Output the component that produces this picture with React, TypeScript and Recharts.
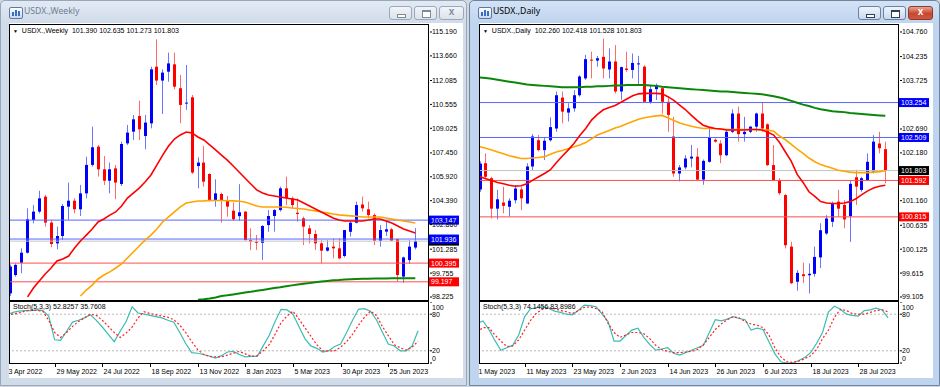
import React from 'react'
import { ComposedChart, Line, Bar, XAxis, YAxis, ReferenceLine } from 'recharts'

const FONT = '"Liberation Sans", Arial, sans-serif'
const TITLE_FONT = '"Noto Sans", "Open Sans", sans-serif'

// ---------- weekly: 3 Apr 2022 .. 30 Jul 2023 ----------
const weeklyOpen = [
  98.46, 99.63, 100.42, 101.06, 103.16, 103.69, 104.65, 102.99, 101.66, 102.13,
  104.01, 104.39, 103.84, 104.86, 106.68, 107.85, 106.4, 105.67, 106.46, 105.46,
  108.06, 108.81, 109.81, 108.53, 109.34, 112.97, 112.08, 112.65, 113.12, 111.59,
  110.63, 111.01, 106.61, 106.83, 106.1, 104.39, 104.82, 104.39, 103.75, 103.4,
  103.69, 101.87, 101.77, 101.7, 102.83, 103.41, 103.79, 105.18, 104.54, 103.62,
  103.26, 102.62, 102.26, 101.66, 101.19, 101.45, 101.34, 100.85, 102.4, 102.98,
  104.15, 103.84, 103.47, 101.83, 102.41, 102.56, 101.92, 99.53, 100.59, 101.39,
]
const weeklyHigh = [
  100.3, 100.38, 101.34, 103.9, 104.12, 105.03, 104.76, 103.16, 102.73, 104.18,
  105.55, 104.54, 105.4, 107.21, 109.13, 107.96, 107.25, 106.83, 106.68, 108.17,
  109.24, 109.88, 110.8, 109.88, 112.97, 114.72, 112.8, 113.87, 113.87, 112.44,
  113.08, 111.16, 107.17, 107.89, 106.15, 105.76, 104.91, 104.69, 104.27, 105.45,
  103.72, 102.62, 102.2, 102.83, 103.79, 103.85, 105.29, 105.93, 104.65, 104.54,
  103.37, 102.83, 102.51, 101.87, 101.87, 101.98, 101.98, 102.51, 103.05, 104.33,
  104.65, 104.33, 103.58, 102.83, 103.05, 102.65, 101.95, 100.81, 101.87, 102.635,
]
const weeklyLow = [
  98.3, 99.53, 99.74, 101.0, 102.94, 103.58, 102.73, 101.41, 101.28, 101.88,
  103.16, 103.58, 103.41, 104.54, 106.57, 105.93, 105.4, 104.86, 104.48, 105.33,
  107.96, 108.28, 108.28, 107.68, 109.02, 111.8, 109.94, 112.01, 111.52, 109.34,
  110.2, 106.1, 105.18, 105.29, 104.33, 104.01, 102.99, 103.37, 103.11, 103.1,
  101.83, 101.23, 101.23, 100.59, 102.4, 102.41, 103.69, 104.11, 103.9, 103.05,
  101.55, 101.66, 101.23, 100.38, 101.13, 100.7, 100.64, 100.76, 102.09, 102.94,
  103.69, 103.26, 101.55, 101.45, 102.13, 101.8, 99.21, 99.14, 100.34, 101.273,
]
const weeklyClose = [
  100.17, 100.28, 101.06, 103.2, 103.69, 104.54, 102.99, 101.62, 102.13, 104.05,
  104.39, 103.84, 104.86, 106.68, 107.81, 106.4, 105.67, 106.4, 105.55, 108.02,
  108.75, 109.6, 108.96, 109.39, 112.8, 112.08, 112.59, 113.18, 111.69, 110.52,
  110.67, 106.19, 106.83, 105.61, 104.39, 104.86, 104.39, 104.01, 103.2, 103.65,
  101.87, 101.77, 101.7, 102.77, 103.41, 103.79, 105.18, 104.54, 104.11, 103.54,
  102.73, 102.26, 101.66, 101.19, 101.4, 101.34, 100.7, 102.51, 102.98, 104.11,
  103.9, 103.47, 101.83, 102.51, 102.56, 101.83, 99.63, 100.76, 101.45, 101.803,
]
const weeklyMaFast = [
  null, null, null, 98.23, 98.8, 99.25, 99.7, 100.08, 100.53, 100.66,
  100.85, 101.36, 101.81, 102.19, 102.58, 103.03, 103.22, 103.47, 103.67, 104.05,
  104.56, 104.88, 105.2, 105.59, 106.04, 106.67, 107.31, 107.89, 108.34, 108.6,
  108.79, 108.72, 108.47, 108.28, 107.96, 107.64, 107.31, 106.99, 106.61, 106.23,
  105.84, 105.46, 105.08, 104.88, 104.75, 104.69, 104.63, 104.56, 104.5, 104.44,
  104.24, 104.05, 103.86, 103.67, 103.47, 103.28, 103.15, 103.09, 103.09, 103.09,
  103.09, 103.15, 103.22, 103.22, 103.09, 102.96, 102.77, 102.58, 102.45, 102.32,
]
const weeklyMaMid = [
  null, null, null, null, null, null, null, null, null, null,
  null, null, 98.29, 98.67, 98.99, 99.38, 99.63, 99.83, 100.08, 100.34,
  100.72, 101.11, 101.49, 101.87, 102.19, 102.58, 103.03, 103.35, 103.67, 103.99,
  104.24, 104.31, 104.37, 104.38, 104.4, 104.4, 104.4, 104.39, 104.38, 104.35,
  104.31, 104.18, 104.05, 103.99, 103.99, 103.99, 103.99, 103.97, 103.92, 103.89,
  103.86, 103.8, 103.74, 103.67, 103.61, 103.54, 103.48, 103.45, 103.42, 103.39,
  103.35, 103.35, 103.35, 103.35, 103.28, 103.22, 103.15, 103.09, 103.03, 102.96,
]
const weeklyMaSlow = [
  null, null, null, null, null, null, null, null, null, null,
  null, null, null, null, null, null, null, null, null, null,
  null, null, null, null, null, null, null, null, null, null,
  null, null, 98.05, 98.08, 98.13, 98.19, 98.29, 98.33, 98.39, 98.45,
  98.51, 98.56, 98.62, 98.68, 98.74, 98.8, 98.85, 98.91, 98.97, 99.03,
  99.08, 99.12, 99.17, 99.21, 99.25, 99.29, 99.31, 99.34, 99.36, 99.38,
  99.39, 99.4, 99.41, 99.41, 99.41, 99.42, 99.42, 99.42, 99.43, 99.43,
]
const weeklyStochMain = [
  79, 83, 85, 86, 86, 87, 86, 77, 38, 37,
  52, 67, 70, 74, 79, 70, 59, 47, 35, 52,
  68, 92, 82, 80, 78, 76, 74, 70, 67, 50,
  32, 17, 16, 14, 11, 8, 12, 18, 19, 14,
  10, 11, 11, 28, 45, 68, 88, 87, 80, 60,
  40, 28, 24, 18, 20, 27, 31, 50, 70, 88,
  89, 85, 71, 51, 31, 28, 20, 20, 28, 52.83,
]
const weeklyStochSignal = [
  79, 80, 82, 85, 87, 86, 85, 70, 50, 42,
  50, 60, 68, 74, 80, 78, 70, 60, 50, 42,
  49, 59, 74, 84, 81, 79, 77, 75, 71, 62,
  50, 35, 22, 14, 11, 10, 10, 13, 16, 19,
  15, 11, 12, 20, 30, 47, 66, 77, 85, 72,
  58, 44, 30, 20, 20, 20, 26, 35, 47, 62,
  75, 85, 78, 60, 45, 30, 25, 21, 26, 35.76,
]
const weeklyPriceTicks = [98.225, 99.755, 101.285, 102.86, 104.39, 105.92, 107.45, 109.025, 110.555, 112.085, 113.66, 115.19]
const weeklyDomain = [98.033, 115.638]
const weeklyDateLabels = ['3 Apr 2022', '29 May 2022', '24 Jul 2022', '18 Sep 2022', '13 Nov 2022', '8 Jan 2023', '5 Mar 2023', '30 Apr 2023', '25 Jun 2023']
const weeklyBlueLevels = [103.147, 101.936]
const weeklyRedLevels = [100.395, 99.197]
const weeklyQuote = ['101.390', '102.635', '101.273', '101.803']
const weeklyStochValues = ['52.8257', '35.7608']

// ---------- daily: 1 May 2023 .. 4 Aug 2023 ----------
const dailyOpen = [
  101.4, 101.96, 101.64, 100.99, 101.12, 101.03, 101.17, 101.4, 101.1, 101.89,
  102.45, 102.24, 102.45, 102.7, 103.36, 103.04, 103.13, 103.41, 103.77, 104.17,
  104.15, 104.23, 103.96, 104.13, 103.49, 103.98, 103.95, 104.07, 104.02, 103.27,
  103.54, 103.56, 103.27, 102.53, 101.74, 101.87, 102.06, 102.1, 101.61, 101.99,
  102.46, 102.38, 102.13, 102.63, 103.02, 102.58, 102.63, 102.74, 103.02, 102.79,
  101.92, 101.6, 101.28, 100.18, 99.43, 99.59, 99.57, 99.6, 99.95, 100.46,
  100.71, 101.14, 101.07, 100.83, 101.66, 101.39, 101.6, 101.78, 102.38, 102.26,
]
const dailyHigh = [
  102.0, 102.17, 101.67, 101.39, 101.46, 101.21, 101.49, 101.46, 101.96, 102.58,
  102.56, 102.52, 102.94, 103.49, 103.49, 103.24, 103.52, 103.84, 104.27, 104.34,
  104.25, 104.62, 104.41, 104.48, 104.02, 104.34, 104.3, 104.25, 104.05, 103.63,
  103.66, 103.59, 103.38, 102.95, 101.92, 102.13, 102.35, 102.28, 102.04, 102.7,
  102.49, 102.45, 102.67, 103.11, 103.17, 102.95, 102.75, 103.04, 103.27, 102.81,
  102.35, 101.64, 101.3, 100.28, 99.68, 99.84, 99.82, 100.18, 100.68, 100.85,
  101.14, 101.39, 101.17, 101.6, 101.82, 101.67, 102.17, 102.56, 102.63, 102.418,
]
const dailyLow = [
  101.35, 101.64, 100.78, 100.76, 100.89, 100.82, 101.1, 100.96, 101.09, 101.81,
  102.21, 102.03, 102.42, 102.63, 102.81, 102.85, 103.06, 103.38, 103.74, 103.77,
  104.02, 103.77, 103.77, 103.45, 103.31, 103.91, 103.77, 103.61, 103.27, 103.23,
  103.31, 103.02, 102.63, 101.67, 101.57, 101.83, 101.87, 101.6, 101.5, 101.97,
  102.4, 101.96, 102.11, 102.6, 102.42, 102.42, 102.6, 102.63, 102.63, 101.9,
  101.59, 101.28, 100.14, 99.38, 99.24, 99.4, 99.18, 99.54, 99.72, 100.43,
  100.6, 100.82, 100.57, 100.28, 101.07, 101.35, 101.59, 101.74, 102.17, 101.528,
]
const dailyClose = [
  101.95, 101.67, 100.99, 101.19, 101.05, 101.16, 101.42, 101.21, 101.89, 102.53,
  102.24, 102.44, 102.73, 103.41, 103.06, 103.13, 103.41, 103.81, 104.18, 104.15,
  104.2, 103.98, 104.13, 103.49, 104.01, 103.95, 104.1, 104.09, 103.27, 103.54,
  103.63, 103.27, 102.99, 101.74, 101.87, 102.06, 102.1, 101.61, 102.01, 102.51,
  102.42, 102.13, 102.63, 103.02, 102.58, 102.63, 102.74, 103.02, 102.7, 101.92,
  101.6, 101.32, 100.21, 99.4, 99.62, 99.55, 99.6, 99.96, 100.53, 100.78,
  101.1, 100.99, 100.76, 101.52, 101.46, 101.64, 101.99, 102.42, 102.28, 101.803,
]
const dailyMaFast = [
  101.67, 101.63, 101.59, 101.55, 101.52, 101.49, 101.47, 101.48, 101.52, 101.6,
  101.67, 101.74, 101.82, 101.97, 102.11, 102.24, 102.38, 102.55, 102.7, 102.88,
  103.0, 103.1, 103.15, 103.19, 103.26, 103.33, 103.4, 103.44, 103.45, 103.45,
  103.45, 103.44, 103.38, 103.3, 103.2, 103.1, 102.98, 102.87, 102.77, 102.73,
  102.7, 102.69, 102.67, 102.67, 102.67, 102.67, 102.68, 102.68, 102.67, 102.62,
  102.56, 102.4, 102.2, 102.0, 101.72, 101.55, 101.35, 101.25, 101.14, 101.11,
  101.1, 101.1, 101.11, 101.14, 101.2, 101.29, 101.37, 101.43, 101.47, 101.49,
]
const dailyMaMid = [
  102.31, 102.28, 102.24, 102.2, 102.16, 102.12, 102.09, 102.06, 102.06, 102.07,
  102.08, 102.1, 102.15, 102.2, 102.23, 102.27, 102.31, 102.35, 102.4, 102.48,
  102.56, 102.61, 102.66, 102.71, 102.75, 102.8, 102.85, 102.9, 102.93, 102.95,
  102.97, 102.98, 102.93, 102.87, 102.82, 102.78, 102.75, 102.72, 102.7, 102.7,
  102.7, 102.69, 102.68, 102.68, 102.68, 102.68, 102.68, 102.68, 102.68, 102.67,
  102.64, 102.54, 102.46, 102.36, 102.26, 102.17, 102.07, 101.99, 101.93, 101.89,
  101.85, 101.81, 101.79, 101.77, 101.76, 101.76, 101.76, 101.77, 101.78, 101.8,
]
const dailyMaSlow = [
  103.79, 103.78, 103.76, 103.74, 103.72, 103.7, 103.68, 103.66, 103.64, 103.63,
  103.62, 103.61, 103.6, 103.59, 103.58, 103.58, 103.58, 103.58, 103.59, 103.59,
  103.6, 103.6, 103.61, 103.62, 103.62, 103.63, 103.63, 103.63, 103.63, 103.62,
  103.61, 103.59, 103.58, 103.57, 103.56, 103.55, 103.54, 103.53, 103.52, 103.51,
  103.5, 103.49, 103.49, 103.48, 103.47, 103.46, 103.45, 103.44, 103.43, 103.41,
  103.39, 103.36, 103.33, 103.29, 103.25, 103.21, 103.18, 103.14, 103.11, 103.09,
  103.07, 103.06, 103.05, 103.03, 103.02, 103.01, 103.0, 102.99, 102.98, 102.97,
]
const dailyStochMain = [
  65, 69, 55, 37, 21, 25, 29, 46, 76, 89,
  91, 92, 90, 85, 83, 80, 79, 86, 95, 94,
  92, 80, 68, 36, 36, 45, 54, 57, 42, 30,
  21, 23, 25, 16, 13, 17, 21, 25, 29, 50,
  71, 69, 72, 76, 73, 71, 54, 57, 55, 35,
  15, 2, 0, 0, 4, 9, 17, 32, 50, 84,
  93, 88, 80, 78, 77, 86, 87, 90, 87, 74.15,
]
const dailyStochSignal = [
  51, 58, 58, 46, 36, 27, 28, 38, 54, 70,
  82, 88, 90, 89, 86, 84, 81, 86, 91, 92,
  89, 84, 65, 50, 42, 46, 50, 50, 48, 40,
  29, 22, 19, 17, 17, 18, 19, 22, 30, 42,
  55, 64, 71, 76, 74, 68, 64, 62, 58, 46,
  25, 10, 2, 1, 3, 7, 12, 22, 40, 54,
  75, 88, 86, 81, 80, 80, 83, 86, 87, 83.9,
]
// 101.670 and 103.215 sit under the price tags and are not readable in the terminal
const dailyPriceTicks = [99.105, 99.615, 100.125, 100.635, 101.16, 102.18, 102.69, 103.725, 104.235, 104.76]
const dailyDomain = [99.041, 104.909]
const dailyDateLabels = ['1 May 2023', '11 May 2023', '23 May 2023', '2 Jun 2023', '14 Jun 2023', '26 Jun 2023', '6 Jul 2023', '18 Jul 2023', '28 Jul 2023']
const dailyBlueLevels = [103.254, 102.509]
const dailyRedLevels = [101.592, 100.815]
const dailyQuote = ['102.260', '102.418', '101.528', '101.803']
const dailyStochValues = ['74.1456', '83.8986']

const bidPrice = 101.803
const dateTickIdx = [0, 8, 16, 24, 32, 40, 48, 56, 64]

function buildRows(o: number[], h: number[], l: number[], c: number[], fast: any[], mid: any[], slow: any[], k: number[], d: number[]) {
  const rows: any[] = o.map((v, i) => ({
    i, o: v, h: h[i], l: l[i], c: c[i], range: [l[i], h[i]],
    fast: fast[i], mid: mid[i], slow: slow[i], k: k[i], d: d[i],
  }))
  // two empty slots on the right, like the terminal's chart shift
  rows.push({ i: 70 }, { i: 71 })
  return rows
}

const weeklyRows = buildRows(weeklyOpen, weeklyHigh, weeklyLow, weeklyClose, weeklyMaFast, weeklyMaMid, weeklyMaSlow, weeklyStochMain, weeklyStochSignal)
const dailyRows = buildRows(dailyOpen, dailyHigh, dailyLow, dailyClose, dailyMaFast, dailyMaMid, dailyMaSlow, dailyStochMain, dailyStochSignal)

function Candle(props: any) {
  const { x, y, width, height, payload } = props
  if (!payload || payload.o == null || x == null) return <g />
  const { o, h, l, c } = payload
  const top0 = Math.min(y, y + height)
  const hgt = Math.abs(height)
  const span = h - l || 1
  const py = (v: number) => top0 + ((h - v) / span) * hgt
  const up = c >= o
  const cx = Math.round(x + width / 2)
  const bTop = py(Math.max(o, c))
  const bBot = py(Math.min(o, c))
  return (
    <g>
      <line x1={cx + 0.5} x2={cx + 0.5} y1={top0} y2={top0 + hgt} stroke={up ? '#6a78ff' : '#ff6b6b'} strokeWidth={1} />
      <rect x={cx - 1} y={bTop} width={3} height={Math.max(1, bBot - bTop)} fill={up ? '#0000ff' : '#ff0000'} />
    </g>
  )
}

function Tag(props: any) {
  const { viewBox, tagText, tagColor } = props
  if (!viewBox) return <g />
  const x = viewBox.x + viewBox.width - 1
  const y = viewBox.y
  return (
    <g>
      <rect x={x} y={y - 4.5} width={30} height={9} fill={tagColor} />
      {tagText ? <text x={x + 2} y={y + 2.6} fontSize={7} fontFamily={FONT} fill="#ffffff">{tagText}</text> : null}
    </g>
  )
}

function StochTick(props: any) {
  const { x, y, payload } = props
  const v = payload.value
  const dy = v === 100 ? 5 : v === 0 ? -5 : 0
  return (
    <text x={x} y={y + dy + 2.5} fontSize={7} fontFamily={FONT} fill="#000">{v}</text>
  )
}

function DateTick(props: any) {
  const { x, y, payload, labels } = props
  const n = dateTickIdx.indexOf(payload.value)
  if (n < 0) return <g />
  const xr = Math.round(x) + 0.5
  return (
    <g>
      <line x1={xr} x2={xr} y1={y} y2={y + 4} stroke="#000" />
      <text x={xr + 1} y={y + 10.5} fontSize={7} fontFamily={FONT} fill="#000">{labels[n]}</text>
    </g>
  )
}

const titleButtons = [
  { x: 388, w: 23, kind: 'min' },
  { x: 413, w: 23, kind: 'max' },
  { x: 438, w: 25, kind: 'close' },
]

function WindowFrame({ left, width, title, active }: any) {
  const bg = active ? 'linear-gradient(#d3e3f6, #bfd4ee 22px, #bfd4ee)' : 'linear-gradient(#e2eaf4, #d0dcea 22px, #d0dcea)'
  const btnBorder = active ? '#6d82a0' : '#9aa8ba'
  const btnBg = active ? 'linear-gradient(#eef4fb, #c9d9ee)' : 'linear-gradient(#f2f5f9, #dbe3ec)'
  const glyph = active ? '#2f3f55' : '#7d8a9a'
  return (
    <div style={{
      position: 'absolute', left, top: 0, width, height: 386, background: bg,
      border: `1px solid ${active ? '#70849e' : '#98a6b8'}`, borderRadius: '5px 5px 0 0', boxSizing: 'border-box',
    }}>
      <div style={{
        position: 'absolute', left: 8, top: 6, width: 12, height: 10, border: '1px solid #5c79a6',
        background: 'linear-gradient(#ffffff, #c8d8ee)', borderRadius: 2,
      }}>
        <div style={{ position: 'absolute', left: 2, top: 4, width: 2, height: 4, background: '#3a6cc8' }} />
        <div style={{ position: 'absolute', left: 5, top: 2, width: 2, height: 6, background: '#3a6cc8' }} />
        <div style={{ position: 'absolute', left: 8, top: 3, width: 2, height: 5, background: '#3a6cc8' }} />
      </div>
      <div style={{
        position: 'absolute', left: 23, top: 4, fontFamily: TITLE_FONT, fontSize: 8.7,
        color: active ? '#000' : '#6f7e92', whiteSpace: 'pre',
      }}>{title}</div>
      {titleButtons.map((b) => {
        const isClose = b.kind === 'close'
        return (
          <div key={b.kind} style={{
            position: 'absolute', left: b.x, top: 5, width: b.w, height: 14,
            border: `1px solid ${isClose && active ? '#8a3b2c' : btnBorder}`, borderRadius: 3, boxSizing: 'border-box',
            background: isClose && active ? 'linear-gradient(#e8a493, #c7472f 55%, #d0583f)' : btnBg,
          }}>
            {b.kind === 'min' && (
              <div style={{ position: 'absolute', left: 7, top: 7, width: 7, height: 2, border: `1px solid ${glyph}`, background: '#fff' }} />
            )}
            {b.kind === 'max' && (
              <div style={{ position: 'absolute', left: 7, top: 3, width: 7, height: 5, border: `1px solid ${glyph}`, borderTopWidth: 2, background: '#fff' }} />
            )}
            {b.kind === 'close' && (
              <div style={{
                position: 'absolute', left: 0, top: -1, width: '100%', textAlign: 'center', fontFamily: FONT,
                fontSize: 10, fontWeight: 'bold', color: active ? '#ffffff' : glyph,
              }}>x</div>
            )}
          </div>
        )
      })}
    </div>
  )
}

function ChartPanel({ svgLeft, rows, domain, priceTicks, blue, red, dateLabels, symbol, quote, stoch, bidText }: any) {
  const borderX = svgLeft + 2
  return (
    <>
      <div style={{ position: 'absolute', left: svgLeft, top: 25 }}>
        <ComposedChart width={461} height={275} data={rows} margin={{ top: 0, right: 0, bottom: 0, left: 0 }}>
          <XAxis dataKey="i" hide />
          <YAxis
            orientation="right"
            width={38}
            domain={domain}
            allowDataOverflow
            ticks={priceTicks}
            interval={0}
            tickSize={2}
            tickMargin={0}
            axisLine={false}
            tickLine={{ stroke: '#000' }}
            tick={{ fontSize: 7, fill: '#000', fontFamily: FONT }}
            tickFormatter={(v: number) => v.toFixed(3)}
          />
          <ReferenceLine y={bidPrice} stroke="#c4c4c4" label={<Tag tagText={bidText ? bidPrice.toFixed(3) : ''} tagColor="#000000" />} />
          {blue.map((v: number) => (
            <ReferenceLine key={'b' + v} y={v} stroke="#5566ff" label={<Tag tagText={v.toFixed(3)} tagColor="#0000ff" />} />
          ))}
          {red.map((v: number) => (
            <ReferenceLine key={'r' + v} y={v} stroke="#ff4d4d" label={<Tag tagText={v.toFixed(3)} tagColor="#ff0000" />} />
          ))}
          <Bar dataKey="range" barSize={3} isAnimationActive={false} shape={(p: any) => <Candle {...p} />} />
          <Line dataKey="slow" stroke="#0a870a" strokeWidth={2} dot={false} activeDot={false} isAnimationActive={false} />
          <Line dataKey="mid" stroke="#ffa500" strokeWidth={1.6} dot={false} activeDot={false} isAnimationActive={false} />
          <Line dataKey="fast" stroke="#ff0000" strokeWidth={1.6} dot={false} activeDot={false} isAnimationActive={false} />
        </ComposedChart>
      </div>
      <div style={{ position: 'absolute', left: svgLeft, top: 302 }}>
        <ComposedChart width={461} height={78} data={rows} margin={{ top: 0, right: 0, bottom: 0, left: 0 }}>
          <XAxis
            dataKey="i"
            height={17}
            ticks={dateTickIdx}
            interval={0}
            tickSize={0}
            tickMargin={0}
            axisLine={false}
            tickLine={false}
            tick={(p: any) => <DateTick {...p} labels={dateLabels} />}
          />
          <YAxis
            orientation="right"
            width={38}
            domain={[0, 100]}
            ticks={[0, 20, 80, 100]}
            interval={0}
            tickSize={2}
            tickMargin={0}
            axisLine={false}
            tickLine={{ stroke: '#000' }}
            tick={(p: any) => <StochTick {...p} />}
          />
          <ReferenceLine y={80} stroke="#b8b8b8" strokeDasharray="2 2" />
          <ReferenceLine y={20} stroke="#b8b8b8" strokeDasharray="2 2" />
          <Line dataKey="k" stroke="#3cbcb4" strokeWidth={1.2} dot={false} activeDot={false} isAnimationActive={false} />
          <Line dataKey="d" stroke="#ff2020" strokeWidth={1.2} strokeDasharray="2 2" dot={false} activeDot={false} isAnimationActive={false} />
        </ComposedChart>
      </div>
      {/* plot borders */}
      <div style={{ position: 'absolute', left: borderX, top: 24, width: 420, height: 277, border: '1px solid #000', boxSizing: 'border-box' }} />
      <div style={{ position: 'absolute', left: borderX, top: 301, width: 420, height: 63, border: '1px solid #000', boxSizing: 'border-box' }} />
      <div style={{ position: 'absolute', left: borderX + 4, top: 27, fontSize: 7, fontFamily: FONT, whiteSpace: 'pre', lineHeight: '8px' }}>
        <span style={{ fontSize: 5 }}>▼</span>{'  ' + symbol + '  ' + quote.join(' ')}
      </div>
      <div style={{ position: 'absolute', left: borderX + 4, top: 303, fontSize: 7, fontFamily: FONT, whiteSpace: 'pre', lineHeight: '8px' }}>
        {'Stoch(5,3,3) ' + stoch.join(' ')}
      </div>
    </>
  )
}

export default function App() {
  return (
    <div style={{ position: 'fixed', left: 0, top: 0, width: 940, height: 387, background: '#cfd8e3', overflow: 'hidden' }}>
      <WindowFrame left={0} width={467} title="USDX.,Weekly" active={false} />
      <WindowFrame left={469} width={471} title="USDX.,Daily" active />
      <div style={{ position: 'absolute', left: 9, top: 23, width: 454, height: 355, background: '#fff' }} />
      <div style={{ position: 'absolute', left: 479, top: 23, width: 454, height: 355, background: '#fff' }} />
      <ChartPanel
        svgLeft={7}
        rows={weeklyRows}
        domain={weeklyDomain}
        priceTicks={weeklyPriceTicks}
        blue={weeklyBlueLevels}
        red={weeklyRedLevels}
        dateLabels={weeklyDateLabels}
        symbol="USDX.,Weekly"
        quote={weeklyQuote}
        stoch={weeklyStochValues}
        bidText={false}
      />
      <ChartPanel
        svgLeft={477}
        rows={dailyRows}
        domain={dailyDomain}
        priceTicks={dailyPriceTicks}
        blue={dailyBlueLevels}
        red={dailyRedLevels}
        dateLabels={dailyDateLabels}
        symbol="USDX.,Daily"
        quote={dailyQuote}
        stoch={dailyStochValues}
        bidText
      />
      {/* frame strips covering the plot's overflow on the left */}
      <div style={{ position: 'absolute', left: 1, top: 23, width: 8, height: 362, background: '#d0dcea' }} />
      <div style={{ position: 'absolute', left: 470, top: 23, width: 9, height: 362, background: '#bfd4ee' }} />
    </div>
  )
}
